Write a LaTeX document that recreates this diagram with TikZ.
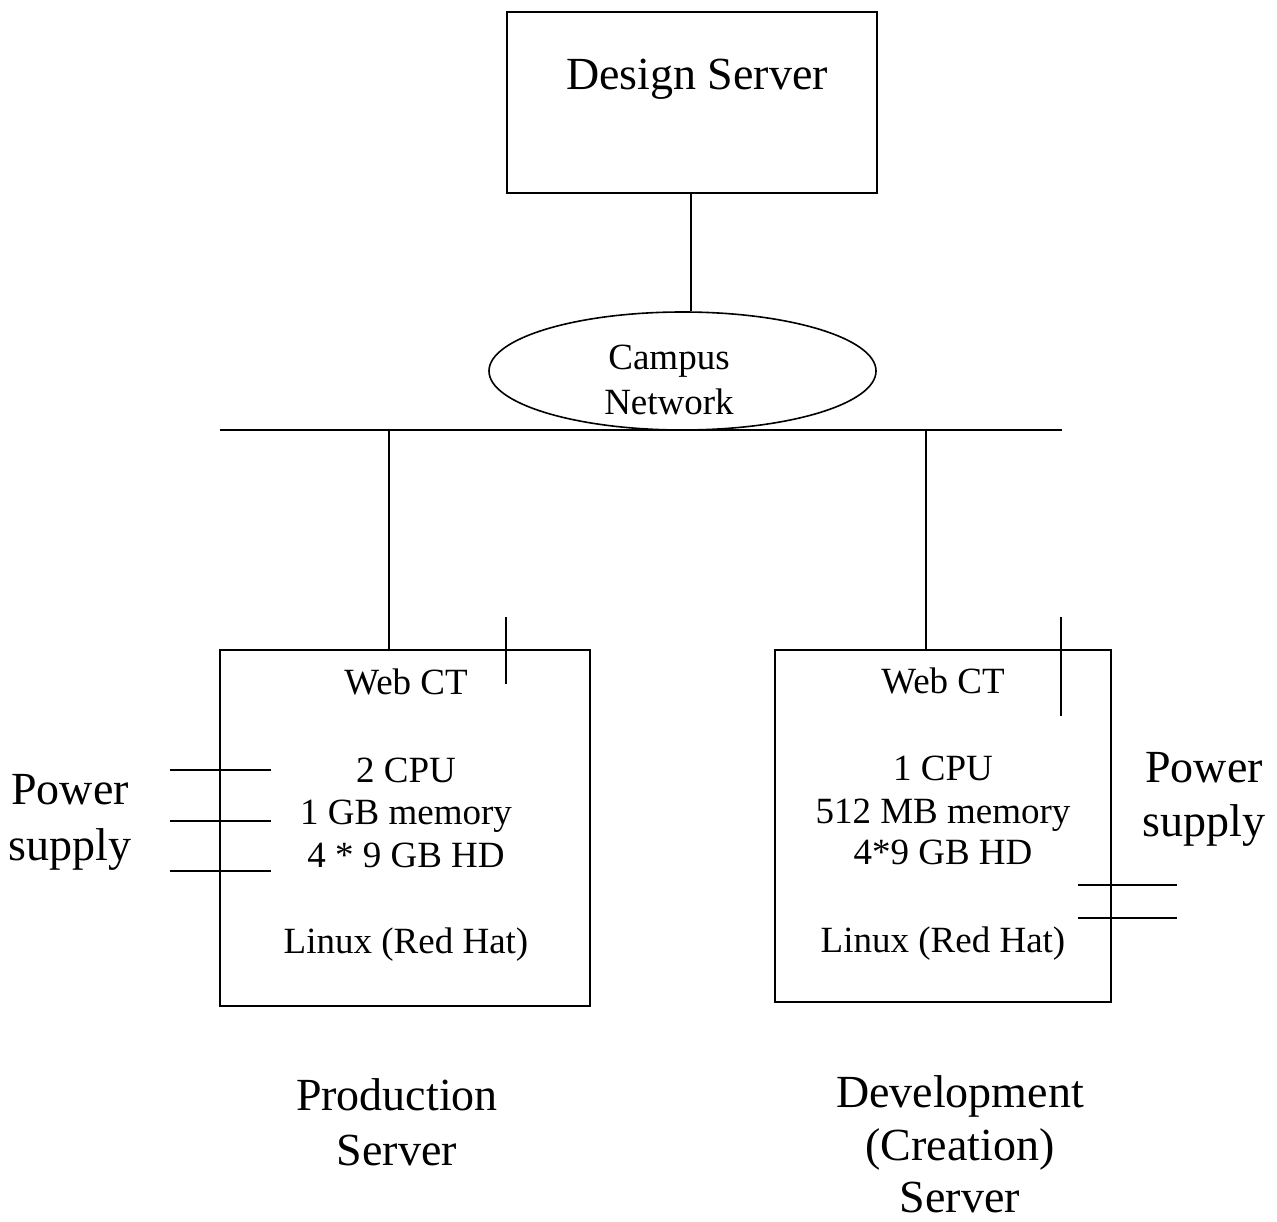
\documentclass[tikz,border=0pt]{standalone}
\usepackage{fontspec}
\setmainfont{Liberation Serif}
\usetikzlibrary{shapes.geometric}
\begin{document}
\begin{tikzpicture}[x=1pt,y=-1pt,line width=1.6pt,
  box/.style={draw,rectangle,inner sep=0pt},
  txt/.style={anchor=base,inner sep=0pt,font=\fontsize{37}{44}\selectfont},
  big/.style={anchor=base,inner sep=0pt,font=\fontsize{46}{55}\selectfont},
  wire/.style={draw,line width=1.4pt}]
\path[use as bounding box] (0,0) rectangle (1277,1222);
% boxes
\node[box,minimum width=370pt,minimum height=181pt] (ds) at (692,102.5) {};
\node[big] (dst) at (697,90) {Design Server};
\node[draw,ellipse,minimum width=387pt,minimum height=118pt,inner sep=0pt] (cn) at (682.5,371) {};
\node[txt] (cn1) at (669,370) {Campus};
\node[txt] (cn2) at (669,414) {Network};
\node[box,minimum width=370pt,minimum height=356pt] (prod) at (405,828) {};
\node[box,minimum width=336pt,minimum height=352pt] (dev) at (943,826) {};
% bus
\coordinate (busL) at (220,430);
\coordinate (busR) at (1062,430);
\coordinate (tapP) at (389,430);
\coordinate (tapD) at (926,430);
\draw[wire] (busL) -- (busR);
\draw[wire] (ds.south -| 691,0) -- (cn.north -| 691,0);
\draw[wire] (tapP) -- (tapP |- prod.north);
\draw[wire] (tapD) -- (tapD |- dev.north);
% production text
\node[txt] (p1) at (406,694) {Web CT};
\node[txt] (p2) at (406,782) {2 CPU};
\node[txt] (p3) at (406,824) {1 GB memory};
\node[txt] (p4) at (406,867) {4 * 9 GB HD};
\node[txt] (p5) at (406,953) {Linux (Red Hat)};
% development text
\node[txt] (d1) at (943,693) {Web CT};
\node[txt] (d2) at (943,780) {1 CPU};
\node[txt] (d3) at (943,823) {512 MB memory};
\node[txt] (d4) at (943,864) {4*9 GB HD};
\node[txt] (d5) at (943,952) {Linux (Red Hat)};
% short vertical marks
\coordinate (mp1) at (506,617); \coordinate (mp2) at (506,684);
\coordinate (md1) at (1061,617); \coordinate (md2) at (1061,716);
\draw[wire] (mp1) -- (mp2);
\draw[wire] (md1) -- (md2);
% power supply lines
\coordinate (la1) at (170,770); \coordinate (lb1) at (271,770);
\coordinate (la2) at (170,821); \coordinate (lb2) at (271,821);
\coordinate (la3) at (170,871); \coordinate (lb3) at (271,871);
\draw[wire] (la1) -- (lb1);
\draw[wire] (la2) -- (lb2);
\draw[wire] (la3) -- (lb3);
\coordinate (ra1) at (1078,885); \coordinate (rb1) at (1177,885);
\coordinate (ra2) at (1078,918); \coordinate (rb2) at (1177,918);
\draw[wire] (ra1) -- (rb1);
\draw[wire] (ra2) -- (rb2);
\node[big] (pl1) at (70,804) {Power};
\node[big] (pl2) at (70,860) {supply};
\node[big] (pr1) at (1204,782) {Power};
\node[big] (pr2) at (1204,836) {supply};
% labels
\node[big] (ps1) at (397,1110) {Production};
\node[big] (ps2) at (397,1165) {Server};
\node[big] (dv1) at (960,1107) {Development};
\node[big] (dv2) at (960,1160) {(Creation)};
\node[big] (dv3) at (960,1212) {Server};
\end{tikzpicture}
\end{document}
